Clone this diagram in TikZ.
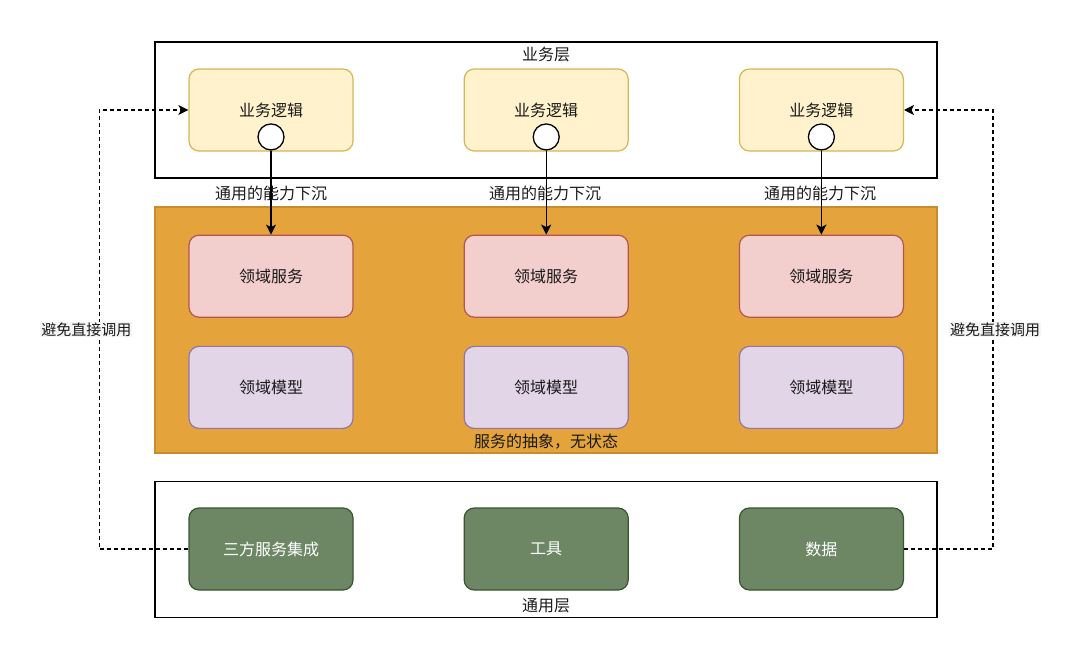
\documentclass[tikz,border=0pt]{standalone}
\usepackage{fontspec}
\setmainfont{Noto Sans CJK SC}
\usetikzlibrary{positioning,arrows.meta}
\definecolor{BizFill}{HTML}{FFF2CC}
\definecolor{BizLine}{HTML}{D6B656}
\definecolor{SvcFill}{HTML}{F2CFCD}
\definecolor{SvcLine}{HTML}{B85450}
\definecolor{ModelFill}{HTML}{E1D5E7}
\definecolor{ModelLine}{HTML}{9673A6}
\definecolor{BaseFill}{HTML}{6D8764}
\definecolor{BaseLine}{HTML}{3A5431}
\definecolor{DomainFill}{HTML}{E5A43B}
\definecolor{DomainLine}{HTML}{C98B2B}
\definecolor{TextDark}{HTML}{1A1A1A}

\begin{document}
\begin{tikzpicture}[x=1pt,y=-1pt,
      font=\fontsize{16}{19}\selectfont, text=TextDark,
      layer/.style={draw=black,line width=1.3pt,minimum width=782pt,minimum height=136pt},
      domainbox/.style={draw=DomainLine,fill=DomainFill,line width=1.2pt,minimum width=782pt,minimum height=246pt},
      box/.style={rounded corners=10pt,line width=1.2pt,minimum width=164pt,minimum height=82pt,align=center},
      biz/.style={box,draw=BizLine,fill=BizFill},
      svc/.style={box,draw=SvcLine,fill=SvcFill},
      model/.style={box,draw=ModelLine,fill=ModelFill},
      base/.style={box,draw=BaseLine,fill=BaseFill,text=white},
      port/.style={circle,draw=black,fill=white,line width=1.3pt,minimum size=26pt,inner sep=0pt},
      sink/.style={-{Stealth[length=10pt,width=10pt,inset=2.5pt]},line width=1.4pt,draw=black},
      dashlink/.style={-{Stealth[length=10pt,width=10pt,inset=2.5pt]},line width=1.1pt,dash pattern=on 4pt off 3pt},
      sidelabel/.style={fill=black!4,inner sep=1pt,font=\fontsize{15}{18}\selectfont}]
    \useasboundingbox (0,0) rectangle (1080,660);
    % layers
    \node[layer] (bizlayer) at (546,110) {};
    \node[domainbox] (domainlayer) at (546,330) {};
    \node[layer] (baselayer) at (546,549.5) {};
    \node[below=2pt of bizlayer.north] {业务层};
    \node[above=1pt of domainlayer.south] {服务的抽象，无状态};
    \node[above=2pt of baselayer.south] {通用层};
    % business logic
    \node[biz] (bizA) at (271,110) {业务逻辑};
    \node[biz,right=110pt of bizA] (bizB) {业务逻辑};
    \node[biz,right=110pt of bizB] (bizC) {业务逻辑};
    \node[port,anchor=south] (portA) at ([yshift=1pt]bizA.south) {};
    \node[port,anchor=south] (portB) at ([yshift=1pt]bizB.south) {};
    \node[port,anchor=south] (portC) at ([yshift=1pt]bizC.south) {};
    % domain
    \node[svc,below=83pt of bizA] (svcA) {领域服务};
    \node[svc,below=83pt of bizB] (svcB) {领域服务};
    \node[svc,below=83pt of bizC] (svcC) {领域服务};
    \node[model,below=28pt of svcA] (modelA) {领域模型};
    \node[model,below=28pt of svcB] (modelB) {领域模型};
    \node[model,below=28pt of svcC] (modelC) {领域模型};
    % common
    \node[base] (third) at (271,549) {三方服务集成};
    \node[base,right=110pt of third] (tools) {工具};
    \node[base,right=110pt of tools] (data) {数据};
    % sinking arrows
    \node (sinkA) at (271,193) {通用的能力下沉};
    \node (sinkB) at (545,193) {通用的能力下沉};
    \node (sinkC) at (820,193) {通用的能力下沉};
    \draw[sink] (portA) -- (svcA);
    \draw[sink] (portB) -- (svcB);
    \draw[sink] (portC) -- (svcC);
    % avoid direct calls
    \draw[dashlink] (third.west) -- ++(-89,0) |- node[sidelabel,pos=0.25,xshift=-13pt] {避免直接调用} (bizA.west);
    \draw[dashlink] (data.east) -- ++(89,0) |- node[sidelabel,pos=0.25,xshift=2pt] {避免直接调用} (bizC.east);
  \end{tikzpicture}
\end{document}
